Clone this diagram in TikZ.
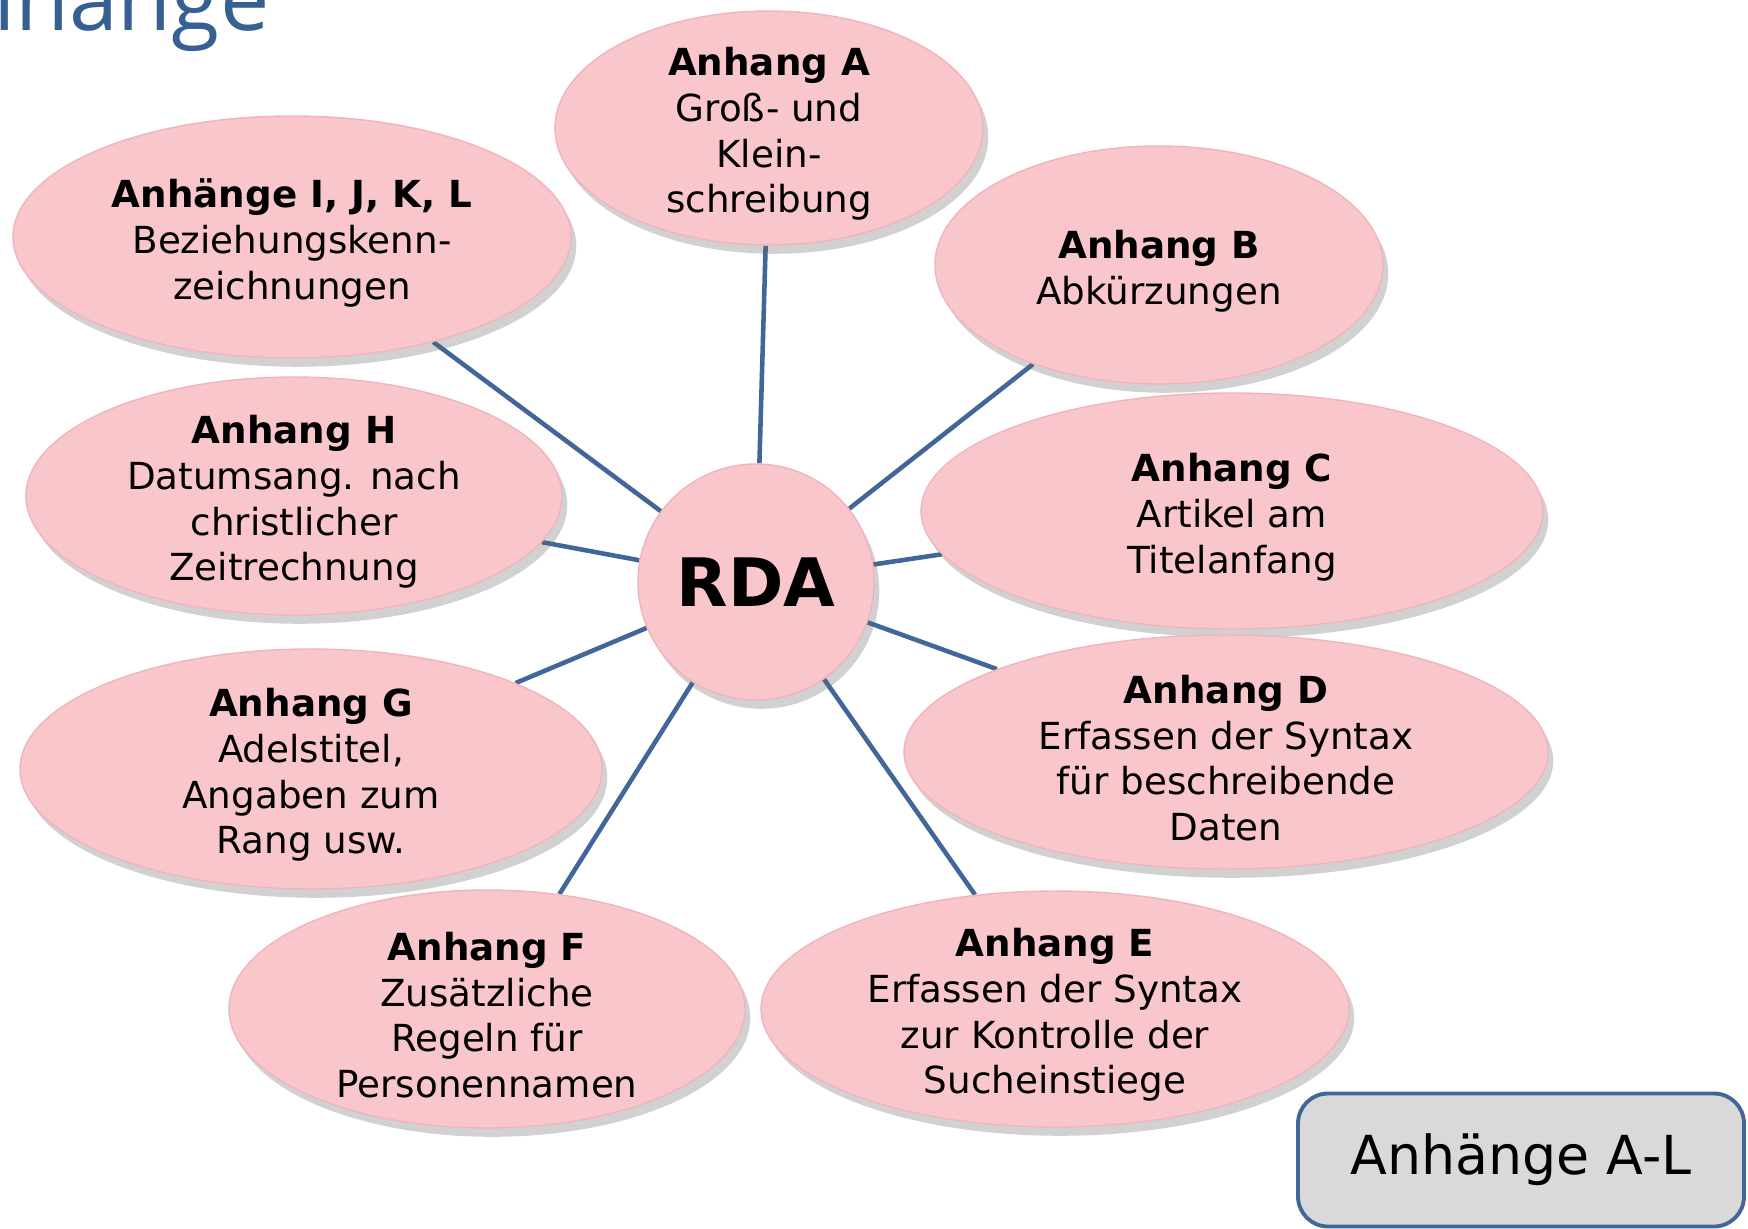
\documentclass[tikz,border=0pt]{standalone}
\usepackage{fontspec}
\setmainfont{DejaVu Sans}
\newfontfamily\titlefont{Open Sans}
\usetikzlibrary{shapes.geometric,shadows,backgrounds}
\definecolor{rosa}{RGB}{249,198,204}
\definecolor{rosarand}{RGB}{240,180,188}
\definecolor{linie}{RGB}{65,103,152}
\definecolor{titelblau}{RGB}{55,96,146}
\definecolor{kastengrau}{RGB}{217,217,217}
\newcommand{\kopf}[1]{\rule{0pt}{11.5pt}\textbf{#1}}
\begin{document}
\begin{tikzpicture}[x=0.1mm,y=-0.1mm,
		blase/.style={ellipse,fill=rosa,draw=rosarand,line width=0.4pt,
			inner xsep=0pt,inner ysep=-10pt,align=center,
			font=\fontsize{10.6}{13}\selectfont,
			drop shadow={shadow xshift=1.5pt,shadow yshift=-2.5pt,opacity=0.3,fill=black!60}},
		verbindung/.style={draw=linie,line width=1.3pt}]
		\useasboundingbox (0,0) rectangle (1748,1229);
		% Titel (oben abgeschnitten)
		\node[anchor=base east,inner sep=0pt,text=titelblau,font=\titlefont\fontsize{25}{29}\selectfont] (titel) at (270,31) {Anhänge};
		% Mitte
		\node[blase,circle,minimum size=23.6mm,font=\bfseries\fontsize{19}{22}\selectfont] (rda) at (756,582) {RDA};
		% Anhaenge ringsum
		\node[blase,minimum width=42.8mm,minimum height=23.4mm] (a) at (769,128)
			{\kopf{Anhang A}\\Groß- und\\Klein-\\schreibung};
		\node[blase,minimum width=44.8mm,minimum height=23.8mm] (b) at (1159,265)
			{\kopf{Anhang B}\\Abkürzungen};
		\node[blase,minimum width=62.2mm,minimum height=23.6mm] (c) at (1232,511)
			{\kopf{Anhang C}\\Artikel am\\Titelanfang};
		\node[blase,minimum width=64.4mm,minimum height=23.4mm] (d) at (1226,752)
			{\kopf{Anhang D}\\Erfassen der Syntax\\für beschreibende\\Daten};
		\node[blase,minimum width=58.8mm,minimum height=23.6mm] (e) at (1055,1009)
			{\kopf{Anhang E}\\Erfassen der Syntax\\zur Kontrolle der\\Sucheinstiege};
		\node[blase,minimum width=51.6mm,minimum height=23.8mm] (f) at (487,1009)
			{\kopf{Anhang F}\\Zusätzliche\\Regeln für\\Personennamen};
		\node[blase,minimum width=58.2mm,minimum height=24mm] (g) at (311,769)
			{\kopf{Anhang G}\\Adelstitel,\\Angaben zum\\Rang usw.};
		\node[blase,minimum width=53.6mm,minimum height=23.8mm] (h) at (294,496)
			{\kopf{Anhang H}\\Datumsang. nach\\christlicher\\Zeitrechnung};
		\node[blase,minimum width=55.8mm,minimum height=24.2mm] (ijkl) at (292,237)
			{\kopf{Anhänge I, J, K, L}\\Beziehungskenn-\\zeichnungen};
		% Verbindungen
		\begin{scope}[on background layer]
			\foreach \ziel in {a,b,c,d,e,f,g,h,ijkl}
				\draw[verbindung] (rda) -- (\ziel);
		\end{scope}
		% Kasten unten rechts
		\node[draw=linie,line width=1.1pt,fill=kastengrau,rounded corners=3mm,
			minimum width=44.6mm,minimum height=13.3mm,
			font=\fontsize{15.3}{18}\selectfont] (kasten) at (1521,1160) {Anhänge A-L};
\end{tikzpicture}
\end{document}
